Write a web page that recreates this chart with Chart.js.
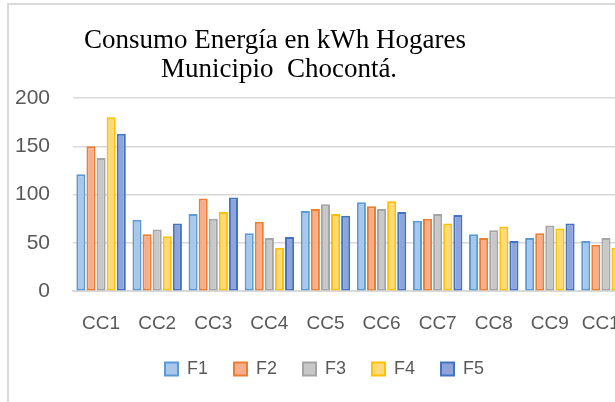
<!DOCTYPE html>
<html>
<head>
<meta charset="utf-8">
<script src="https://cdn.jsdelivr.net/npm/chart.js@4"></script>
<style>
  html, body { margin: 0; padding: 0; background: #fff; overflow: hidden; }
  #frame {
    position: absolute; left: 7px; top: 3px;
    width: 680px; height: 430px;
    border-left: 2px solid #d9d9d9; border-top: 2px solid #d9d9d9;
  }
  #myChart { display: block; }
</style>
</head>
<body>
<div id="frame">
  <canvas id="myChart" width="674" height="400"></canvas>
</div>
<script>
// data
var categories = ["CC1", "CC2", "CC3", "CC4", "CC5", "CC6", "CC7", "CC8", "CC9", "CC10"];
var seriesNames = ["F1", "F2", "F3", "F4", "F5"];
var f1 = [121, 74, 80, 60, 83, 92, 73, 59, 55, 52];
var f2 = [150, 59, 96, 72, 85, 88, 75, 55, 60, 48];
var f3 = [138, 64, 75, 55, 90, 85, 80, 63, 68, 55];
var f4 = [180, 57, 82, 45, 80, 93, 70, 67, 65, 45];
var f5 = [163, 70, 97, 56, 78, 82, 79, 52, 70, 50];
var titleLines = ["Consumo Energía en kWh Hogares", "Municipio  Chocontá."];

var borderColors = ['#5b9bd5', '#ed7d31', '#a5a5a5', '#ffc000', '#4472c4'];
var fillColors = ['#a8c7ea', '#f6ae8d', '#c8c8c8', '#ffd97a', '#8fa5da'];
var allSeries = [f1, f2, f3, f4, f5];

var datasets = seriesNames.map(function (name, i) {
    return {
        label: name,
        data: allSeries[i],
        backgroundColor: fillColors[i],
        borderColor: borderColors[i],
        borderWidth: 2,
        borderSkipped: false,
        barPercentage: 0.9,
        categoryPercentage: 0.9
    };
});

// title drawn left of centre, like the original
var titlePlugin = {
    id: 'offsetTitle',
    afterDraw: function (chart) {
        var c = chart.ctx;
        c.save();
        c.fillStyle = '#000';
        c.font = '27px "Liberation Serif", "Times New Roman", serif';
        c.textAlign = 'center';
        c.textBaseline = 'alphabetic';
        c.fillText(titleLines[0], 266, 43);
        c.fillText(titleLines[1], 270, 72);
        c.restore();
    }
};

var ctx = document.getElementById("myChart").getContext('2d');

var myChart = new Chart(ctx, {
    type: 'bar',
    data: {
        labels: categories,
        datasets: datasets
    },
    options: {
        responsive: false,
        animation: false,
        layout: {
            padding: { left: 6, right: 49, top: 93, bottom: 17 }
        },
        scales: {
            x: {
                grid: { display: true, color: 'transparent', drawTicks: true, tickLength: 18, tickColor: 'transparent' },
                border: { color: '#d9d9d9', width: 2 },
                ticks: {
                    color: '#595959',
                    padding: 3,
                    autoSkip: false,
                    maxRotation: 0,
                    font: { family: '"Liberation Sans", Arial, sans-serif', size: 19 }
                },
                afterFit: function (scale) { scale.height -= 4; }
            },
            y: {
                min: 0,
                max: 200,
                grid: { color: '#d9d9d9', lineWidth: 1.5, drawTicks: true, tickLength: 23, tickColor: 'transparent' },
                border: { display: false },
                ticks: {
                    stepSize: 50,
                    color: '#595959',
                    padding: 0,
                    font: { family: '"Liberation Sans", Arial, sans-serif', size: 21 }
                }
            }
        },
        plugins: {
            title: { display: false },
            tooltip: { enabled: false },
            legend: {
                position: 'bottom',
                labels: {
                    boxWidth: 13,
                    boxHeight: 13,
                    padding: 26,
                    color: '#595959',
                    font: { family: '"Liberation Sans", Arial, sans-serif', size: 18 }
                }
            }
        }
    },
    plugins: [titlePlugin]
});
</script>
</body>
</html>
